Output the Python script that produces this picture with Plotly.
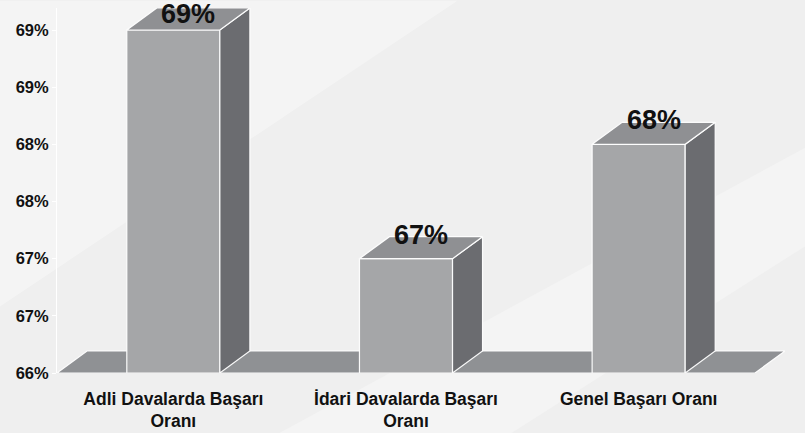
import plotly.graph_objects as go

# Başarı oranları (%)
categories = ["Adli Davalarda Başarı<br>Oranı", "İdari Davalarda Başarı<br>Oranı", "Genel Başarı Oranı"]
values = [69.0, 67.0, 68.0]
value_labels = ["69%", "67%", "68%"]
tick_vals = [66.0, 66.5, 67.0, 67.5, 68.0, 68.5, 69.0]
tick_text = ["66%", "67%", "67%", "68%", "68%", "69%", "69%"]

BASE = 66.0
BAR_W = 0.40          # bar width in category units
DX = 0.129            # depth offset along x (category units)
DY = 0.1924           # depth offset along y (percentage units)

FRONT = "#a5a6a8"
SIDE = "#6b6c70"
TOP = "#8f9093"
FLOOR = "#8f9194"
EDGE = "rgba(255,255,255,0.95)"
FONT = "Liberation Sans, Arial"

xs = list(range(len(categories)))
y_top = max(values) + DY
fig = go.Figure()


def poly(px, py, color):
    fig.add_trace(go.Scatter(
        x=px + [px[0]], y=py + [py[0]], mode="lines", fill="toself",
        fillcolor=color, line=dict(color=EDGE, width=1.2),
        hoverinfo="skip", showlegend=False, cliponaxis=False))


# floor slab
x0, x1 = -0.5, len(categories) - 0.5
poly([x0, x1, x1 + DX, x0 + DX], [BASE, BASE, BASE + DY, BASE + DY], FLOOR)

# 3D bars: front, side and top faces
for x, v in zip(xs, values):
    l, r = x - BAR_W / 2, x + BAR_W / 2
    poly([l, r, r, l], [BASE, BASE, v, v], FRONT)
    poly([r, r + DX, r + DX, r], [BASE, BASE + DY, v + DY, v], SIDE)
    poly([l, r, r + DX, l + DX], [v, v, v + DY, v + DY], TOP)

# value labels on the bar tops (kept inside the figure for the tallest bar)
for x, v, t in zip(xs, values, value_labels):
    shift = 5 if v + DY >= y_top else 13
    fig.add_annotation(x=x + DX / 2, y=v + DY / 2, text=f"<b>{t}</b>",
                       showarrow=False, yshift=shift,
                       font=dict(family=FONT, size=27, color="#111111"))

fig.update_layout(
    width=805, height=433,
    margin=dict(l=57, r=20, t=8, b=60),
    paper_bgcolor="#efefef",
    plot_bgcolor="rgba(0,0,0,0)",
    font=dict(family=FONT, color="#111111"),
    showlegend=False,
    shapes=[
        # soft diagonal light bands in the backdrop
        dict(type="path", xref="paper", yref="paper", layer="below",
             path="M -0.08 1.02 L 0.55 1.02 L -0.08 0.18 Z",
             fillcolor="rgba(255,255,255,0.35)", line=dict(width=0)),
        dict(type="path", xref="paper", yref="paper", layer="below",
             path="M 0.3 -0.17 L 0.62 -0.17 L 1.03 0.35 L 1.03 0.62 Z",
             fillcolor="rgba(255,255,255,0.3)", line=dict(width=0)),
    ],
)

fig.update_xaxes(
    range=[x0, x1 + DX], tickvals=xs,
    ticktext=[f"<b>{c}</b>" for c in categories],
    tickfont=dict(size=17.5, color="#111111"),
    showgrid=False, zeroline=False, showline=False, ticks="",
    ticklabelstandoff=13, automargin=False,
)
fig.update_yaxes(
    range=[BASE, y_top], tickvals=tick_vals,
    ticktext=[f"<b>{t}</b>" for t in tick_text],
    tickfont=dict(size=16.5, color="#111111"),
    showgrid=False, zeroline=False, automargin=False,
    showline=True, linecolor="white", linewidth=1,
    ticks="outside", ticklen=4, tickcolor="white",
)

fig.write_html("out.html")
